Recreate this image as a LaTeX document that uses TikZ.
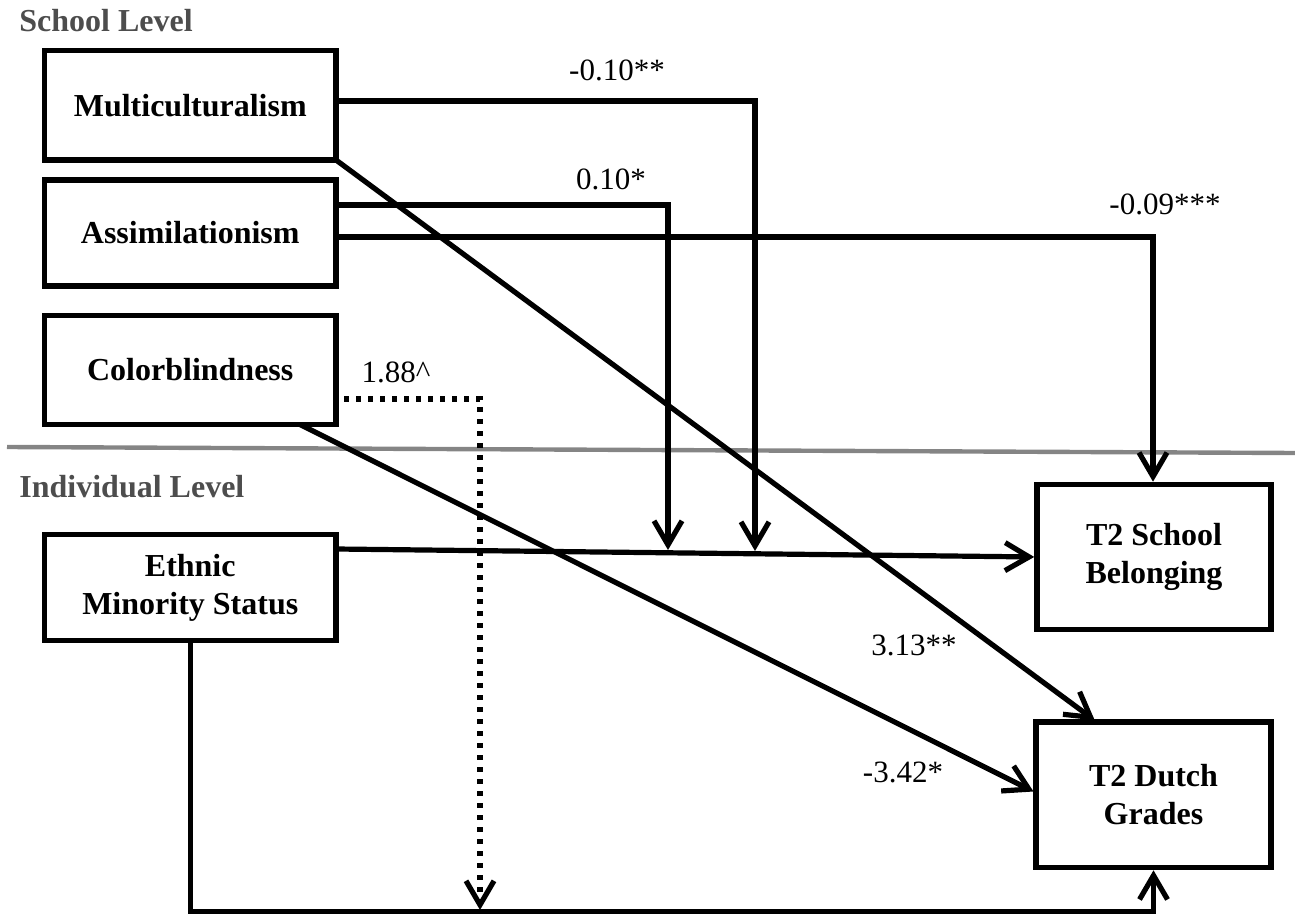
\documentclass[tikz,border=0pt]{standalone}
\usepackage{fontspec}
\setmainfont{Liberation Serif}
\usetikzlibrary{arrows.meta,calc}
\definecolor{lvlgray}{HTML}{4D4D4D}
\definecolor{sepgray}{HTML}{858585}
\begin{document}
\begin{tikzpicture}[x=0.5pt,y=-0.5pt,
  box/.style={draw=black, line width=2.9pt, rectangle, inner sep=0pt, outer sep=0pt, align=center, font=\fontsize{16}{19}\selectfont\bfseries},
  conn/.style={line width=2.6pt, -{Straight Barb[length=12pt,width=14pt]}},
  dotconn/.style={line width=2.6pt, dash pattern=on 2.5pt off 3.5pt, -{Straight Barb[length=12pt,width=14pt]}},
  coef/.style={font=\fontsize{15.5}{18}\selectfont, inner sep=0pt, anchor=base},
  lvl/.style={font=\fontsize{16}{19}\selectfont\bfseries, text=lvlgray, inner sep=0pt, anchor=base west}]
\useasboundingbox (0,0) rectangle (1295,914);

% separator
\draw[sepgray, line width=2.2pt] (7,447) -- (1295,453);

% level labels
\node[lvl] (slvl) at (19,32) {School Level};
\node[lvl] (ilvl) at (19,497) {Individual Level};

% boxes
\node[box, minimum width=145.75pt, minimum height=54.75pt] (mc) at (190.25,105.25) {Multiculturalism};
\node[box, minimum width=145.75pt, minimum height=53pt] (as) at (190.25,233) {Assimilationism};
\node[box, minimum width=145.75pt, minimum height=54.5pt] (cb) at (190.25,370) {Colorblindness};
\node[box, minimum width=145.75pt, minimum height=53pt] (em) at (190.25,587.5) {Ethnic\\Minority Status};
\node[box, minimum width=117pt, minimum height=72.5pt] (sb) at (1154,557) {T2 School\\Belonging};
\node[box, minimum width=117.5pt, minimum height=72.75pt] (dg) at (1153.5,794.75) {T2 Dutch\\Grades};

% helper coordinates
\coordinate (j1) at (668,550);
\coordinate (j2) at (755,551);
\coordinate (dtip) at (480,910);
\coordinate (bl) at (190.25,911.5);
\coordinate (br) at (1153.5,911.5);

% connectors
\draw[conn] ($(mc.east)+(0,-4.25)$) -| (j2);
\draw[conn] ($(as.east)+(0,-28)$) -| (j1);
\draw[conn, shorten >=1.4pt] ($(as.east)+(0,4)$) -| ($(sb.north)+(-1,0)$);
\draw[conn, shorten >=1.4pt] (mc.south east) -- ($(dg.north west)+(61,0)$);
\draw[conn, shorten >=1.4pt] ($(cb.south east)+(-36,0)$) -- ($(dg.west)+(0,-2)$);
\draw[dotconn] ($(cb.east)+(8,29)$) -| (dtip);
\draw[conn, shorten >=1.4pt] ($(em.east)+(0,-38.5)$) -- (sb.west);
\draw[conn, shorten >=1.4pt] (em.south) -- (bl) -- (br) -- (dg.south);

% coefficients
\node[coef] (l1) at (617,81) {-0.10**};
\node[coef] (l2) at (611,190) {0.10*};
\node[coef] (l3) at (1165,215) {-0.09***};
\node[coef] (l4) at (396,383) {1.88\textasciicircum};
\node[coef] (l5) at (914,655) {3.13**};
\node[coef] (l6) at (903,782) {-3.42*};
\end{tikzpicture}
\end{document}
